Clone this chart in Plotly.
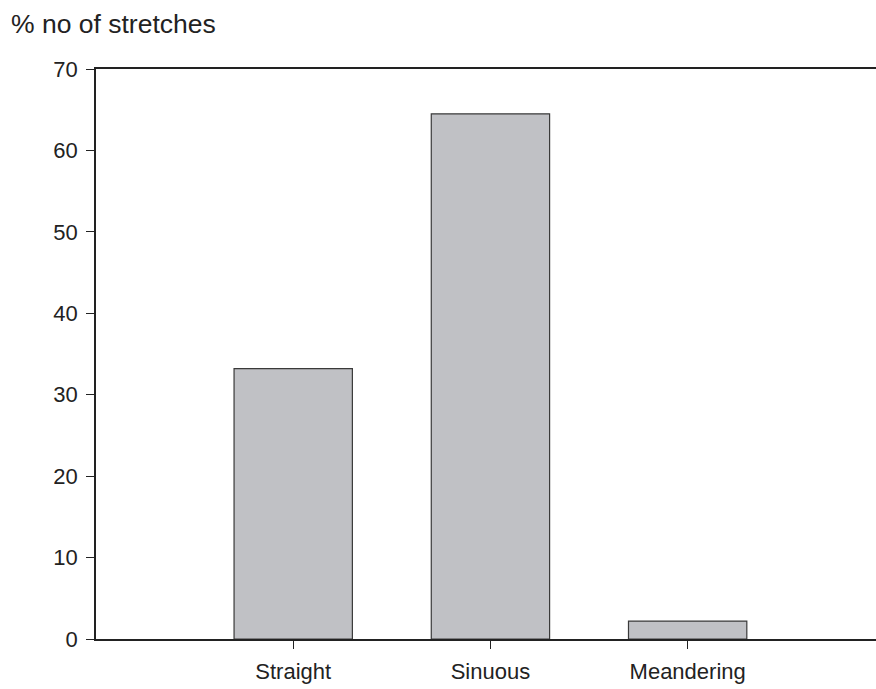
import plotly.graph_objects as go

# Channel planform types and share of stretches (%)
categories = ["Straight", "Sinuous", "Meandering"]
percent_stretches = [33.2, 64.5, 2.2]
y_ticks = [0, 10, 20, 30, 40, 50, 60, 70]

font = dict(family="Liberation Sans, Arial, sans-serif", size=22, color="#222222")

fig = go.Figure(
    go.Bar(
        x=list(range(len(categories))),
        y=percent_stretches,
        width=0.6,
        marker=dict(color="#c0c1c5", line=dict(color="#3a3a3a", width=1.2)),
    )
)

fig.update_layout(
    width=876,
    height=689,
    margin=dict(l=96, r=0, t=69, b=50),
    paper_bgcolor="white",
    plot_bgcolor="white",
    showlegend=False,
    font=font,
    annotations=[
        dict(
            text="% no of stretches",
            xref="paper", yref="paper",
            x=-0.1115, y=1.079,
            xanchor="left", yanchor="middle",
            showarrow=False,
            font=dict(family=font["family"], size=26.5, color="#222222"),
        )
    ],
)

fig.update_xaxes(
    range=[-1.0, 2.955],
    tickmode="array",
    tickvals=list(range(len(categories))),
    ticktext=categories,
    ticks="outside",
    ticklen=8,
    tickwidth=1.2,
    tickcolor="#222222",
    ticklabelstandoff=4,
    showline=True,
    linecolor="#222222",
    linewidth=2,
    mirror=True,
    showgrid=False,
    zeroline=False,
)

fig.update_yaxes(
    range=[0, 70],
    tickmode="array",
    tickvals=y_ticks,
    ticks="outside",
    ticklen=8,
    tickwidth=1.2,
    tickcolor="#222222",
    ticklabelstandoff=4,
    showline=True,
    linecolor="#222222",
    linewidth=1.5,
    showgrid=False,
    zeroline=False,
)

fig.write_html("out.html")
